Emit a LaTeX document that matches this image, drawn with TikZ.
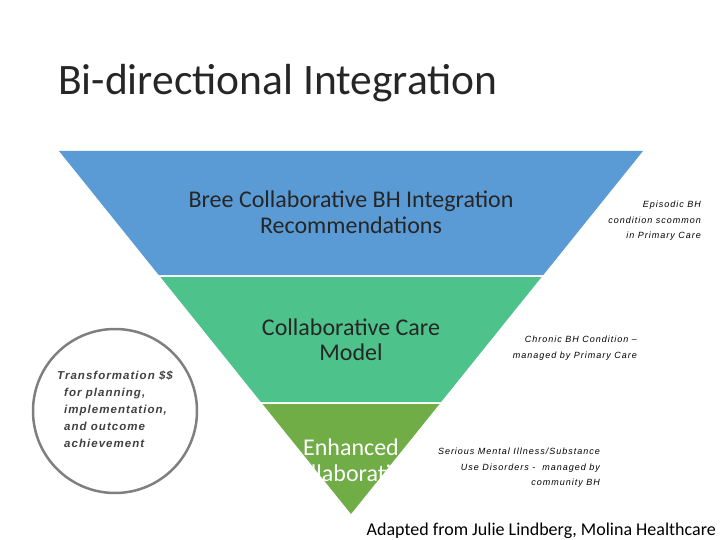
\documentclass[tikz,border=0pt]{standalone}
\usepackage{fontspec}
\setmainfont{Carlito}
\newfontfamily\arialfont{Liberation Sans}
\usetikzlibrary{positioning}
\definecolor{bandblue}{HTML}{5B9BD5}
\definecolor{bandteal}{HTML}{4EC28B}
\definecolor{bandgreen}{HTML}{70AD47}
\definecolor{ringgray}{HTML}{7F7F7F}
\begin{document}
\begin{tikzpicture}[x=1pt,y=-1pt,
 lvl/.style={align=center,inner sep=0pt,text=black!85,font=\fontsize{24}{25.5}\selectfont},
 note/.style={align=right,inner sep=0pt,font=\arialfont\itshape\addfontfeature{LetterSpace=11}\fontsize{9}{15.5}\selectfont}]
\useasboundingbox (0,0) rectangle (720,540);
\node[anchor=base west,inner sep=0pt,text=black!85,font=\fontsize{43.5}{48}\selectfont] (title) at (58,95) {Bi-directional Integration};
\fill[bandblue] (59,151) -- (643,151) -- (543.3,275) -- (158.7,275) -- cycle;
\fill[bandteal] (160.4,277) -- (541.6,277) -- (441.1,402) -- (260.9,402) -- cycle;
\fill[bandgreen] (262.5,404) -- (439.5,404) -- (351,514) -- cycle;
\node[lvl] (bree) at (351,212.5) {Bree Collaborative BH Integration\\Recommendations};
\node[lvl] (ccm) at (351,339.5) {Collaborative Care\\Model};
\begin{scope}
\clip (262.5,404) -- (439.5,404) -- (351,514) -- cycle;
\node[lvl,text=white,font=\fontsize{24}{26}\selectfont] (ec) at (351,460) {Enhanced\\Collaboration};
\end{scope}
\node[note,anchor=east] (episodic) at (701,221) {Episodic BH\\condition scommon\\in Primary Care};
\node[note,anchor=east] (chronic) at (637,348) {Chronic BH Condition –\\managed by Primary Care};
\node[note,anchor=east] (smi) at (600,468) {Serious Mental Illness/Substance\\Use Disorders -\ \ managed by\\community BH};
\node[circle,draw=ringgray,line width=2.5pt,minimum size=164pt] (ring) at (115,411) {};
\node[anchor=north west,align=left,inner sep=0pt,text=black!75,font=\arialfont\bfseries\itshape\addfontfeature{LetterSpace=9}\fontsize{11.5}{17}\selectfont] (money) at (57,371) {Transformation \$\$\\\hspace*{7pt}for planning,\\\hspace*{7pt}implementation,\\\hspace*{7pt}and outcome\\\hspace*{7pt}achievement};
\node[anchor=base east,inner sep=0pt,font=\fontsize{18}{21}\selectfont] (credit) at (716,535) {Adapted from Julie Lindberg, Molina Healthcare};
\end{tikzpicture}
\end{document}
